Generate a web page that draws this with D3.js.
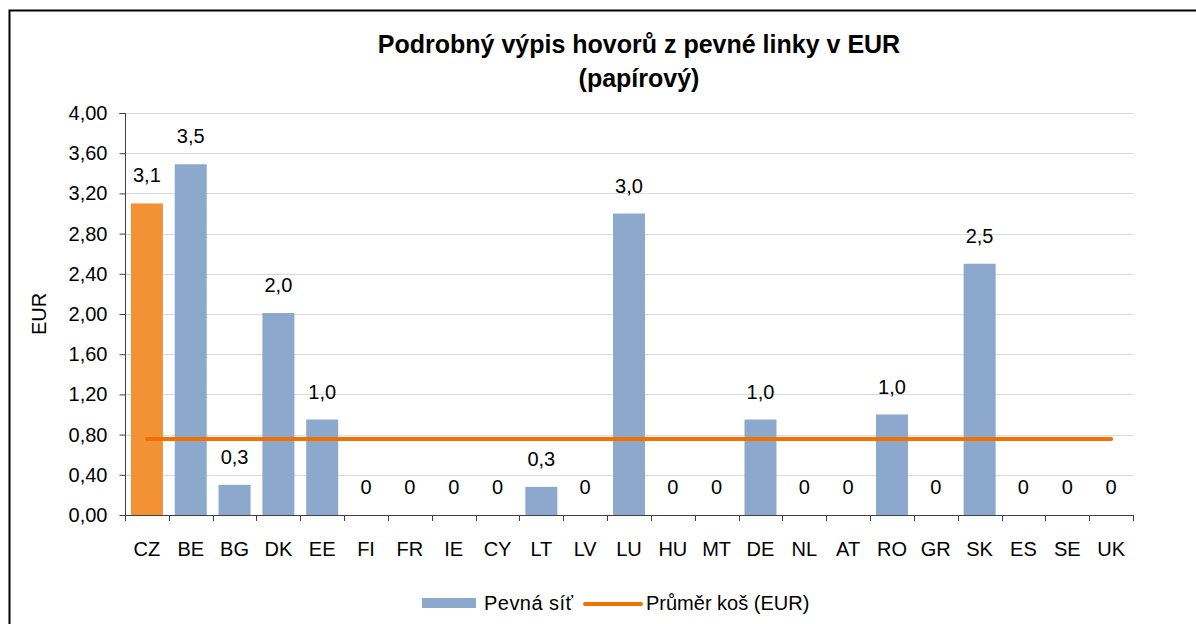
<!DOCTYPE html>
<html><head><meta charset="utf-8">
<script src="https://cdn.jsdelivr.net/npm/d3@7"></script>
<style>body{margin:0;background:#fff}svg{display:block;font-family:"Liberation Sans",Arial,sans-serif}</style>
</head><body><svg id="c" width="1196" height="624"></svg>
<script>
const categories = ["CZ","BE","BG","DK","EE","FI","FR","IE","CY","LT","LV","LU","HU","MT","DE","NL","AT","RO","GR","SK","ES","SE","UK"];
const fixedValues = [3.1,3.49,0.3,2.01,0.95,0,0,0,0,0.28,0,3.0,0,0,0.95,0,0,1.0,0,2.5,0,0,0];
const labels = ["3,1","3,5","0,3","2,0","1,0","0","0","0","0","0,3","0","3,0","0","0","1,0","0","0","1,0","0","2,5","0","0","0"];
const average = 0.756;
const yTicks = [0,0.4,0.8,1.2,1.6,2.0,2.4,2.8,3.2,3.6,4.0];
const title = ["Podrobný výpis hovorů z pevné linky v EUR","(papírový)"];
const seriesNames = ["Pevná síť","Průměr koš (EUR)"];

const svg = d3.select("#c");
const L=125, R=1133, T=113, B=515;
const FS = 20;
const x = d3.scaleBand().domain(categories).range([L,R]).paddingInner(0.27).paddingOuter(0.135);
const y = d3.scaleLinear().domain([0,4]).range([B,T]);

// frame
svg.append("path").attr("d","M9.5,624 V10.5 H1196").attr("fill","none").attr("stroke","#000").attr("stroke-width",2);

// grid
svg.append("g").selectAll("line").data(yTicks.slice(1)).join("line")
  .attr("x1",L).attr("x2",R).attr("y1",d=>Math.round(y(d))+0.5).attr("y2",d=>Math.round(y(d))+0.5)
  .attr("stroke","#d9d9d9").attr("stroke-width",1);

// bars
svg.append("g").selectAll("rect").data(categories).join("rect")
  .attr("x",d=>x(d)).attr("width",x.bandwidth())
  .attr("y",(d,i)=>y(fixedValues[i])).attr("height",(d,i)=>B-y(fixedValues[i]))
  .attr("fill",(d,i)=>i===0?"#F39135":"#8CA8CD");

// labels
svg.append("g").selectAll("text").data(categories).join("text")
  .attr("x",d=>x(d)+x.bandwidth()/2).attr("y",(d,i)=>y(fixedValues[i])-21)
  .attr("text-anchor","middle").attr("font-size",FS).attr("fill","#000")
  .text((d,i)=>labels[i]);

// y axis
const ya = svg.append("g").attr("transform",`translate(${L+0.5},0)`)
  .call(d3.axisLeft(y).tickValues(yTicks).tickSize(6).tickPadding(12).tickFormat(d=>d3.format(".2f")(d).replace(".",",")));
ya.selectAll("text").attr("font-size",FS).attr("fill","#000").attr("font-family","Liberation Sans, Arial, sans-serif");
ya.selectAll("line,path").attr("stroke","#404040");
ya.select(".domain").attr("d",`M-6,${T+0.5}H0V${B+0.5}`);

// x axis
const xa = svg.append("g").attr("transform",`translate(0,${B+0.5})`)
  .call(d3.axisBottom(x).tickSize(0).tickPadding(20));
xa.select(".domain").attr("stroke","#404040").attr("d",`M${L},0H${R}`);
xa.selectAll("text").attr("font-size",FS).attr("fill","#000").attr("font-family","Liberation Sans, Arial, sans-serif")
  .attr("y",40).attr("dy","0");
const step = x.step();
svg.append("g").selectAll("line").data(d3.range(categories.length+1)).join("line")
  .attr("x1",i=>Math.round(L+i*step)+0.5).attr("x2",i=>Math.round(L+i*step)+0.5)
  .attr("y1",B).attr("y2",B+6).attr("stroke","#404040");

// average line
svg.append("line").attr("x1",x(categories[0])+x.bandwidth()/2).attr("x2",x(categories[categories.length-1])+x.bandwidth()/2)
  .attr("y1",y(average)).attr("y2",y(average)).attr("stroke","#F07000").attr("stroke-width",4).attr("stroke-linecap","round");

// title
svg.append("text").attr("x",639).attr("y",53).attr("text-anchor","middle").attr("font-size",25).attr("font-weight","bold").text(title[0]);
svg.append("text").attr("x",639).attr("y",87).attr("text-anchor","middle").attr("font-size",25).attr("font-weight","bold").text(title[1]);

// y title
svg.append("text").attr("transform","translate(46,314) rotate(-90)").attr("text-anchor","middle").attr("font-size",FS).text("EUR");

// legend
svg.append("rect").attr("x",422).attr("y",598).attr("width",54).attr("height",10).attr("fill","#8CA8CD");
svg.append("text").attr("x",484).attr("y",610).attr("font-size",FS).attr("textLength",89).attr("lengthAdjust","spacing").text(seriesNames[0]);
svg.append("line").attr("x1",585).attr("x2",641).attr("y1",604).attr("y2",604).attr("stroke","#F07000").attr("stroke-width",4).attr("stroke-linecap","round");
svg.append("text").attr("x",646).attr("y",610).attr("font-size",FS).text(seriesNames[1]);
</script></body></html>
